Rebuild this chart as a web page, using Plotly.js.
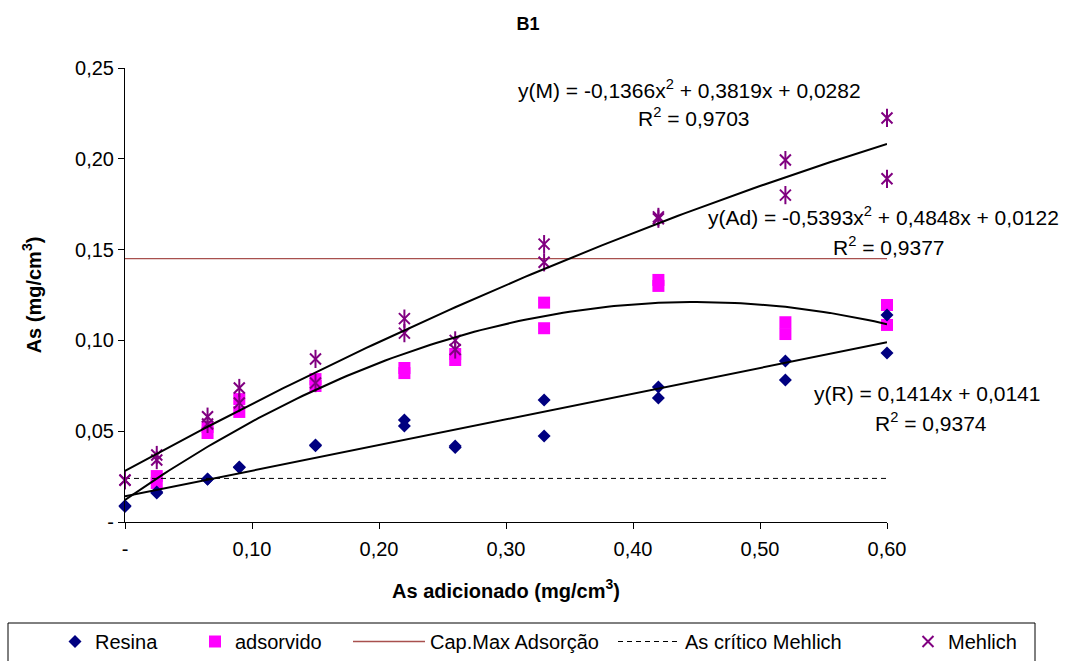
<!DOCTYPE html>
<html>
<head>
<meta charset="utf-8">
<script src="https://cdn.plot.ly/plotly-3.0.1.min.js"></script>
<style>html,body{margin:0;padding:0;background:#fff;}#chart{width:1072px;height:661px;}</style>
</head>
<body>
<div id="chart"></div>
<script>
// ---- data ----
const xAdded = [0, 0, 0.025, 0.025, 0.065, 0.065, 0.09, 0.09, 0.15, 0.15, 0.22, 0.22, 0.26, 0.26, 0.33, 0.33, 0.42, 0.42, 0.52, 0.52, 0.60, 0.60];
const resina = [0.009, 0.0085, 0.0165, 0.016, 0.0237, 0.0235, 0.0303, 0.030, 0.0424, 0.042, 0.0562, 0.0529, 0.0418, 0.041, 0.0672, 0.0474, 0.0743, 0.0683, 0.0887, 0.0782, 0.114, 0.093];
const adsorvidoX = [0.025, 0.025, 0.065, 0.065, 0.09, 0.09, 0.15, 0.15, 0.22, 0.22, 0.26, 0.26, 0.33, 0.33, 0.42, 0.42, 0.52, 0.52, 0.60, 0.60];
const adsorvido = [0.0253, 0.0215, 0.0523, 0.049, 0.0677, 0.0606, 0.0787, 0.0749, 0.0848, 0.082, 0.0925, 0.0892, 0.1208, 0.1067, 0.1333, 0.130, 0.110, 0.1035, 0.1195, 0.1085];
const mehlich = [0.0231, 0.023, 0.0369, 0.0341, 0.058, 0.054, 0.0738, 0.0655, 0.0898, 0.0765, 0.112, 0.104, 0.100, 0.095, 0.153, 0.143, 0.168, 0.167, 0.1993, 0.180, 0.2225, 0.189];
const capMax = 0.145;        // Cap.Max Adsorção
const asCritico = 0.024;     // As crítico Mehlich
const xRange = [0, 0.60];
// trendline coefficients [a2, a1, a0] shown on the chart
const fitM = [-0.1366, 0.3819, 0.0282];
const fitAd = [-0.5393, 0.4848, 0.0122];
const fitR = [0, 0.1414, 0.0141];
const xTicks = [0, 0.1, 0.2, 0.3, 0.4, 0.5, 0.6];
const xTickText = ['-', '0,10', '0,20', '0,30', '0,40', '0,50', '0,60'];
const yTicks = [0, 0.05, 0.10, 0.15, 0.20, 0.25];
const yTickText = ['-', '0,05', '0,10', '0,15', '0,20', '0,25'];

const FONT = 'Liberation Sans, Arial, sans-serif';
function curve(c) {
  const xs = [], ys = [];
  const n = 120;
  for (let i = 0; i <= n; i++) {
    const x = xRange[0] + (xRange[1] - xRange[0]) * i / n;
    xs.push(x); ys.push(c[0] * x * x + c[1] * x + c[2]);
  }
  return {xs, ys};
}
const cM = curve(fitM), cAd = curve(fitAd), cR = curve(fitR);

const traces = [
  {x: adsorvidoX, y: adsorvido, mode: 'markers', name: 'adsorvido', legend: 'legend2', cliponaxis: false,
   marker: {symbol: 'square', size: 12, color: '#FF00FF'}},
  {x: xAdded, y: resina, mode: 'markers', name: 'Resina', legend: 'legend', cliponaxis: false,
   marker: {symbol: 'diamond', size: 10, color: '#000080'}},
  {x: xRange, y: [capMax, capMax], mode: 'lines', name: 'Cap.Max Adsorção', legend: 'legend3',
   line: {color: '#A8504E', width: 1.3}},
  {x: xRange, y: [asCritico, asCritico], mode: 'lines', name: 'As crítico Mehlich', legend: 'legend4',
   line: {color: '#000000', width: 1, dash: '5px,4px'}},
  {x: xAdded, y: mehlich, mode: 'markers', name: 'Mehlich', legend: 'legend5', legendgroup: 'meh', cliponaxis: false,
   marker: {symbol: 'x-thin-open', size: 11, color: '#800080', line: {color: '#800080', width: 2}}},
  {x: xAdded, y: mehlich, mode: 'markers', name: 'Mehlich', showlegend: false, legendgroup: 'meh', cliponaxis: false,
   marker: {symbol: 'line-ns-open', size: 13, color: '#800080', line: {color: '#800080', width: 2}}},
  {x: cM.xs, y: cM.ys, mode: 'lines', showlegend: false, hoverinfo: 'skip', line: {color: '#000', width: 2}},
  {x: cAd.xs, y: cAd.ys, mode: 'lines', showlegend: false, hoverinfo: 'skip', line: {color: '#000', width: 2}},
  {x: cR.xs, y: cR.ys, mode: 'lines', showlegend: false, hoverinfo: 'skip', line: {color: '#000', width: 2}}
];

const L = 125, R = 887, T = 68, B = 522;
const W = R - L, H = B - T;
function px(x) { return (x - L) / W; }
function py(y) { return (B - y) / H; }
function ann(text, xl, yc) {
  return {text: text, xref: 'paper', yref: 'paper', x: px(xl), y: py(yc), xanchor: 'left', yanchor: 'middle',
          showarrow: false, font: {family: FONT, size: 21, color: '#000'}};
}
function leg(xl, iw) {
  return {orientation: 'h', xref: 'container', yref: 'container', x: xl / 1072, y: 1 - 622 / 661,
          xanchor: 'left', yanchor: 'top', itemwidth: iw || 30,
          font: {family: FONT, size: 20, color: '#000'}, bgcolor: 'rgba(0,0,0,0)'};
}

const layout = {
  width: 1072, height: 661,
  margin: {l: L, r: 1072 - R, t: T, b: 661 - B},
  paper_bgcolor: '#fff', plot_bgcolor: '#fff',
  font: {family: FONT, size: 20, color: '#000'},
  title: {text: '<b>B1</b>', x: 528 / 1072, xref: 'container', y: 1 - 24 / 661, yref: 'container',
          xanchor: 'center', yanchor: 'middle', font: {family: FONT, size: 18, color: '#000'}},
  showlegend: true,
  legend: leg(55),
  legend2: leg(195),
  legend3: leg(348, 72),
  legend4: leg(613, 62),
  legend5: leg(908),
  xaxis: {range: xRange, tickvals: xTicks, ticktext: xTickText, showgrid: false, zeroline: false,
          showline: true, linecolor: '#000', linewidth: 1, ticks: 'outside', ticklen: 6, tickcolor: '#000',
          tickfont: {family: FONT, size: 20}, ticklabelstandoff: 3,
          title: {text: '<b>As adicionado (mg/cm<sup>3</sup>)</b>', font: {family: FONT, size: 20}, standoff: 24}},
  yaxis: {range: [0, 0.25], tickvals: yTicks, ticktext: yTickText, showgrid: false, zeroline: false,
          showline: true, linecolor: '#000', linewidth: 1, ticks: 'outside', ticklen: 6, tickcolor: '#000',
          tickfont: {family: FONT, size: 20},
          title: {text: '<b>As (mg/cm<sup>3</sup>)</b>', font: {family: FONT, size: 20}, standoff: 28}},
  shapes: [
    {type: 'rect', xref: 'paper', yref: 'paper', x0: px(8), x1: px(1035), y0: py(623), y1: py(700),
     line: {color: '#000', width: 1}, fillcolor: 'rgba(0,0,0,0)'}
  ],
  annotations: [
    ann('y(M) = -0,1366x<sup>2</sup> + 0,3819x + 0,0282', 516, 89),
    ann('R<sup>2</sup> = 0,9703', 636, 117),
    ann('y(Ad) = -0,5393x<sup>2</sup> + 0,4848x + 0,0122', 706, 216),
    ann('R<sup>2</sup> = 0,9377', 831, 246),
    ann('y(R) = 0,1414x + 0,0141', 812, 393),
    ann('R<sup>2</sup> = 0,9374', 873, 422)
  ]
};

Plotly.newPlot('chart', traces, layout, {displayModeBar: false, staticPlot: true});
</script>
</body>
</html>
